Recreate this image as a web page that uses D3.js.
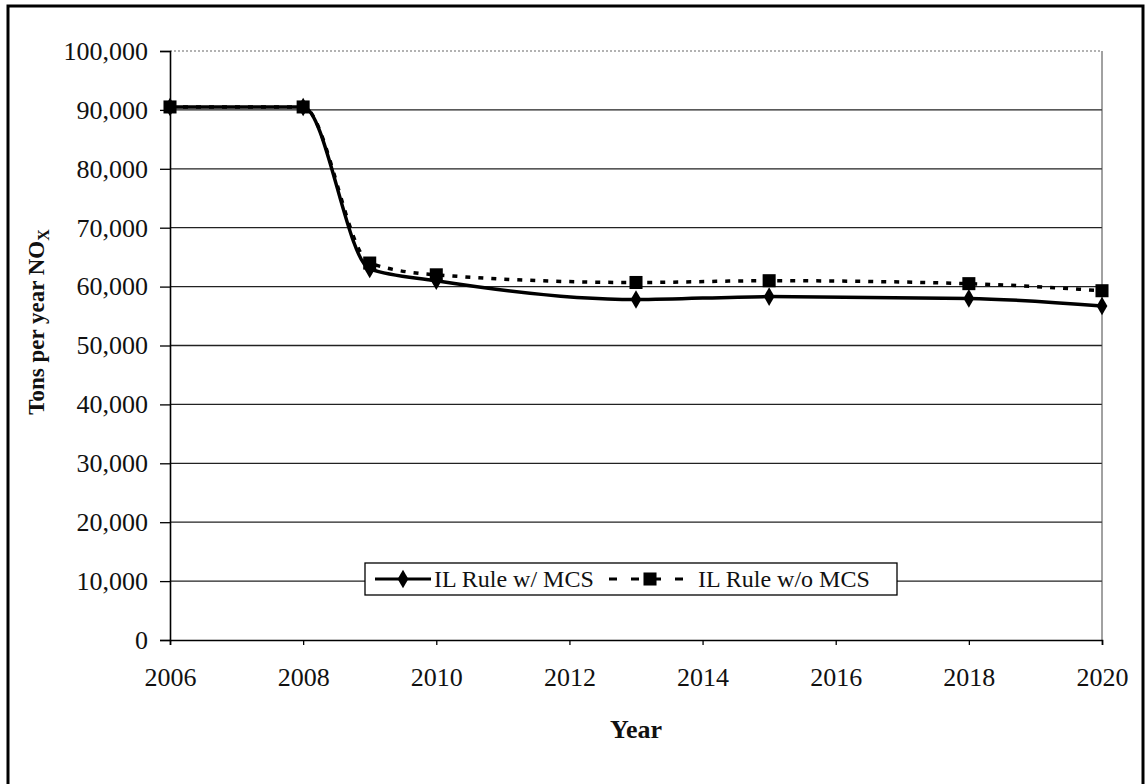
<!DOCTYPE html>
<html>
<head>
<meta charset="utf-8">
<script src="https://cdn.jsdelivr.net/npm/d3@7"></script>
<style>
  body { margin: 0; background: #fff; }
  text { font-family: "Liberation Serif", "Times New Roman", serif; fill: #111; }
</style>
</head>
<body>
<div id="chart"></div>
<script>
// data
const years = [2006, 2008, 2009, 2010, 2013, 2015, 2018, 2020];
const withMCS = [90500, 90500, 63000, 61000, 57800, 58300, 58000, 56700];
const withoutMCS = [90500, 90500, 64000, 62000, 60700, 61000, 60500, 59300];
const yTicks = [0, 10000, 20000, 30000, 40000, 50000, 60000, 70000, 80000, 90000, 100000];
const xTicks = [2006, 2008, 2010, 2012, 2014, 2016, 2018, 2020];
const seriesNames = ['IL Rule w/ MCS', 'IL Rule w/o MCS'];

const width = 1148, height = 784;
const margin = {top: 51, right: 46, bottom: 144, left: 170};
const innerW = width - margin.left - margin.right;
const innerH = height - margin.top - margin.bottom;

const svg = d3.select('#chart').append('svg')
    .attr('width', width)
    .attr('height', height);

// outer frame
svg.append('rect')
    .attr('x', 8).attr('y', 6)
    .attr('width', 1135).attr('height', 800)
    .attr('fill', 'none')
    .attr('stroke', '#000')
    .attr('stroke-width', 3);

const chart = svg.append('g')
    .attr('transform', `translate(${margin.left},${margin.top})`);

const x = d3.scaleLinear().domain([2006, 2020]).range([0, innerW]);
const y = d3.scaleLinear().domain([0, 100000]).range([innerH, 0]);

// gridlines
chart.selectAll('.grid')
    .data(yTicks.filter(d => d > 0))
    .join('line')
    .attr('class', 'grid')
    .attr('x1', 0).attr('x2', innerW)
    .attr('y1', d => y(d)).attr('y2', d => y(d))
    .attr('stroke', d => d === 100000 ? '#999' : '#222')
    .attr('stroke-dasharray', d => d === 100000 ? '2,2' : null)
    .attr('stroke-width', 1.3);

// right edge of plot
chart.append('line')
    .attr('x1', innerW).attr('x2', innerW)
    .attr('y1', 0).attr('y2', innerH)
    .attr('stroke', '#444').attr('stroke-width', 1);

// axes
const yAxis = chart.append('g')
    .call(d3.axisLeft(y).tickValues(yTicks).tickSize(10).tickPadding(12)
      .tickFormat(d3.format(',')));
const xAxis = chart.append('g')
    .attr('transform', `translate(0,${innerH})`)
    .call(d3.axisBottom(x).tickValues(xTicks).tickSize(5).tickPadding(23)
      .tickFormat(d3.format('d')));

[yAxis, xAxis].forEach(ax => {
  ax.select('.domain').attr('stroke', '#000').attr('stroke-width', 1.6);
  ax.selectAll('.tick line').attr('stroke', '#000').attr('stroke-width', 1.3);
  ax.selectAll('.tick text')
    .style('font-family', '"Liberation Serif", serif')
    .style('font-size', '26px')
    .attr('fill', '#111');
});

// axis titles
svg.append('text')
    .attr('x', margin.left + innerW / 2)
    .attr('y', 738)
    .attr('text-anchor', 'middle')
    .style('font-size', '26px')
    .style('font-weight', 'bold')
    .text('Year');

const yTitle = svg.append('text')
    .attr('transform', 'translate(44,322) rotate(-90)')
    .attr('text-anchor', 'middle')
    .style('font-size', '23px')
    .style('font-weight', 'bold');
yTitle.append('tspan').text('Tons per year NO');
yTitle.append('tspan').attr('dy', 5).style('font-size', '16px').text('X');

// series
const line = d3.line()
    .x(d => x(d[0]))
    .y(d => y(d[1]))
    .curve(d3.curveMonotoneX);

const sA = years.map((yr, i) => [yr, withMCS[i]]);
const sB = years.map((yr, i) => [yr, withoutMCS[i]]);

chart.append('path')
    .datum(sB)
    .attr('d', line)
    .attr('fill', 'none')
    .attr('stroke', '#000')
    .attr('stroke-width', 3.5)
    .attr('stroke-dasharray', '5,8');

chart.append('path')
    .datum(sA)
    .attr('d', line)
    .attr('fill', 'none')
    .attr('stroke', '#000')
    .attr('stroke-width', 3.5);

const square = d3.symbol().type(d3.symbolSquare).size(170);
const diamond = d3.symbol().type(d3.symbolDiamond).size(100);

chart.selectAll('.sq')
    .data(sB)
    .join('path')
    .attr('class', 'sq')
    .attr('transform', d => `translate(${x(d[0])},${y(d[1])})`)
    .attr('d', square)
    .attr('fill', '#000');

chart.selectAll('.dm')
    .data(sA)
    .join('path')
    .attr('class', 'dm')
    .attr('transform', d => `translate(${x(d[0])},${y(d[1])})`)
    .attr('d', diamond)
    .attr('fill', '#000');

// legend
const legend = svg.append('g').attr('transform', 'translate(365,563)');
legend.append('rect')
    .attr('width', 532).attr('height', 32)
    .attr('fill', '#fff')
    .attr('stroke', '#000')
    .attr('stroke-width', 1.3);

legend.append('line')
    .attr('x1', 10).attr('x2', 66).attr('y1', 16).attr('y2', 16)
    .attr('stroke', '#000').attr('stroke-width', 3);
legend.append('path')
    .attr('transform', 'translate(38,16)')
    .attr('d', diamond)
    .attr('fill', '#000');
legend.append('text')
    .attr('x', 69).attr('y', 24)
    .style('font-size', '24px')
    .text(seriesNames[0]);

legend.append('line')
    .attr('x1', 244).attr('x2', 326).attr('y1', 16).attr('y2', 16)
    .attr('stroke', '#000').attr('stroke-width', 3)
    .attr('stroke-dasharray', '8,14');
legend.append('path')
    .attr('transform', 'translate(285,16)')
    .attr('d', square)
    .attr('fill', '#000');
legend.append('text')
    .attr('x', 333).attr('y', 24)
    .style('font-size', '24px')
    .text(seriesNames[1]);
</script>
</body>
</html>
